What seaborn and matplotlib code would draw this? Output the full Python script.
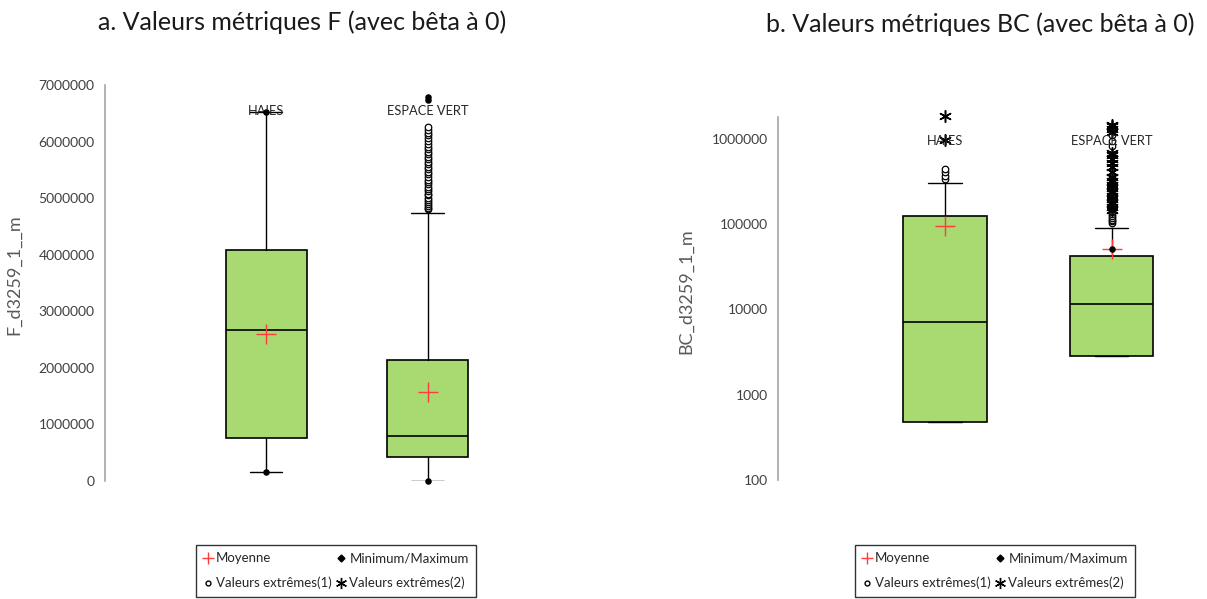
import matplotlib
matplotlib.use("Agg")
import pandas as pd
import seaborn as sns
import matplotlib.pyplot as plt
from matplotlib.lines import Line2D
from matplotlib.ticker import FixedLocator, NullLocator, FuncFormatter

categories = ["HAIES", "ESPACE VERT"]

# a. F metric (linear axis)
f_q1 = [760000, 425000]
f_median = [2665000, 800000]
f_q3 = [4080000, 2147000]
f_whislo = [160000, 0]
f_whishi = [6530000, 4730000]
f_mean = [2595000, 1570000]
f_minmax = {"HAIES": [160000, 6530000], "ESPACE VERT": [0, 6740000, 6790000]}
f_out1 = {"HAIES": [],
          "ESPACE VERT": [4800000, 4830000, 4860000, 4900000, 4930000, 4970000, 5010000,
                          5050000, 5080000, 5120000, 5160000, 5200000, 5250000, 5290000,
                          5330000, 5380000, 5420000, 5460000, 5510000, 5550000, 5600000,
                          5640000, 5690000, 5730000, 5780000, 5820000, 5870000, 5910000,
                          5960000, 6010000, 6060000, 6110000, 6150000, 6200000, 6250000]}
f_out2 = {"HAIES": [], "ESPACE VERT": []}
f_ticks = [0, 1000000, 2000000, 3000000, 4000000, 5000000, 6000000, 7000000]

# b. BC metric (log axis)
bc_q1 = [481, 2830]
bc_median = [7100, 11460]
bc_q3 = [123000, 42400]
bc_whislo = [481, 2830]
bc_whishi = [300000, 89800]
bc_mean = [95700, 50800]
bc_minmax = {"HAIES": [], "ESPACE VERT": [51000]}
bc_out1 = {"HAIES": [340000, 370000, 410000, 440000],
           "ESPACE VERT": [103000, 108000, 113000, 118000, 124000, 130000, 137000, 144000,
                           152000, 160000, 170000, 181000, 193000, 206000, 220000, 236000,
                           255000, 275000, 300000, 330000, 370000, 820000, 950000,
                           1100000, 1250000]}
bc_out2 = {"HAIES": [955000, 1850000],
           "ESPACE VERT": [146000, 160000, 178000, 196000, 215000, 240000, 262000, 290000,
                           320000, 360000, 410000, 470000, 520000, 580000, 640000, 690000,
                           1200000, 1300000, 1400000, 1460000]}
bc_ticks = [100, 1000, 10000, 100000, 1000000]

legend_labels = ["Moyenne", "Valeurs extrêmes(1)", "Minimum/Maximum", "Valeurs extrêmes(2)"]

GREEN = "#A9D971"
RED = "#FF3B3B"
GRAY = "#A6A6A6"
STAR = (6, 2, 0)


def points_frame(groups):
    rows = []
    for cat, vals in groups.items():
        for v in vals:
            rows.append({"pos": categories.index(cat), "value": v})
    return pd.DataFrame(rows, columns=["pos", "value"])


def draw_panel(ax, q1, med, q3, lo, hi, mean, minmax, out1, out2):
    stats = []
    for i, c in enumerate(categories):
        stats.append(dict(label=c, q1=q1[i], med=med[i], q3=q3[i],
                          whislo=lo[i], whishi=hi[i], fliers=[]))
    ax.bxp(stats, positions=range(len(categories)), widths=0.5, capwidths=0.2,
           showfliers=False, patch_artist=True, manage_ticks=False,
           boxprops=dict(facecolor=GREEN, edgecolor="black", linewidth=1.2),
           medianprops=dict(color="black", linewidth=1.2),
           whiskerprops=dict(color="black", linewidth=1),
           capprops=dict(color="black", linewidth=1))

    means = pd.DataFrame({"pos": range(len(categories)), "value": mean})
    sns.scatterplot(data=means, x="pos", y="value", marker="+", s=200, color=RED,
                    linewidth=1, ax=ax, zorder=5)
    d1 = points_frame(out1)
    if len(d1):
        sns.scatterplot(data=d1, x="pos", y="value", marker="o", s=22, facecolor="white",
                        edgecolor="black", linewidth=0.9, ax=ax, zorder=4, clip_on=False)
    d2 = points_frame(out2)
    if len(d2):
        sns.scatterplot(data=d2, x="pos", y="value", marker=STAR, s=70, color="black",
                        linewidth=1.1, ax=ax, zorder=4, clip_on=False)
    dm = points_frame(minmax)
    if len(dm):
        sns.scatterplot(data=dm, x="pos", y="value", marker="o", s=22, color="black",
                        linewidth=0, ax=ax, zorder=6, clip_on=False)

    ax.set_xlim(-1, 1.5)
    ax.set_xticks([])
    ax.set_xlabel("")
    for s in ["top", "right", "bottom"]:
        ax.spines[s].set_visible(False)
    ax.spines["left"].set_color(GRAY)
    ax.spines["left"].set_linewidth(1.2)
    ax.tick_params(axis="y", direction="inout", length=8, width=1, color=GRAY,
                   labelsize=10, labelcolor="#404040")
    ax.grid(False)


def add_legend(ax, x0):
    handles = [
        Line2D([], [], marker="+", color=RED, linestyle="none", markersize=8),
        Line2D([], [], marker="o", markerfacecolor="white", markeredgecolor="black",
               linestyle="none", markersize=3.5),
        Line2D([], [], marker="D", color="black", linestyle="none", markersize=3.5),
        Line2D([], [], marker=STAR, color="black", linestyle="none", markersize=8),
    ]
    leg = ax.legend(handles, legend_labels, ncol=2, loc="lower left",
                    bbox_to_anchor=(x0, 0.004),
                    bbox_transform=ax.figure.transFigure,
                    fontsize=9.5, frameon=True, fancybox=False, handlelength=0.7,
                    handletextpad=0.25, borderpad=0.55, labelspacing=0.95,
                    columnspacing=0.4, borderaxespad=0)
    leg.get_frame().set_edgecolor("black")
    leg.get_frame().set_linewidth(1)


sns.set_style("white")
plt.rcParams["font.family"] = ["Lato", "DejaVu Sans"]

fig = plt.figure(figsize=(12.07, 5.99), dpi=100)
ax1 = fig.add_axes([0.087, 0.197, 0.334, 0.661])
ax2 = fig.add_axes([0.6446, 0.1987, 0.3455, 0.606])

draw_panel(ax1, f_q1, f_median, f_q3, f_whislo, f_whishi, f_mean, f_minmax, f_out1, f_out2)
ax1.set_ylim(0, 7000000)
ax1.yaxis.set_major_locator(FixedLocator(f_ticks))
ax1.yaxis.set_major_formatter(FuncFormatter(lambda v, p: f"{int(v)}"))
ax1.set_ylabel("F_d3259_1__m", fontsize=13, color="#595959")
ax1.yaxis.set_label_coords(-0.205, 0.52)
for i, c in enumerate(categories):
    ax1.text(i, 6550000, c, ha="center", va="center", fontsize=9.3, color="#262626")

ax2.set_yscale("log")
draw_panel(ax2, bc_q1, bc_median, bc_q3, bc_whislo, bc_whishi, bc_mean, bc_minmax, bc_out1, bc_out2)
ax2.set_ylim(100, 1800000)
ax2.yaxis.set_major_locator(FixedLocator(bc_ticks))
ax2.yaxis.set_minor_locator(NullLocator())
ax2.yaxis.set_major_formatter(FuncFormatter(lambda v, p: f"{int(round(v))}"))
ax2.set_ylabel("BC_d3259_1_m", fontsize=13, color="#595959")
ax2.yaxis.set_label_coords(-0.2, 0.52)
for i, c in enumerate(categories):
    ax2.text(i, 940000, c, ha="center", va="center", fontsize=9.3, color="#262626", zorder=7)

fig.text(302 / 1207, 1 - 22 / 599, "a. Valeurs métriques F (avec bêta à 0)",
         ha="center", va="center", fontsize=18, color="#1a1a1a")
fig.text(980 / 1207, 1 - 24 / 599, "b. Valeurs métriques BC (avec bêta à 0)",
         ha="center", va="center", fontsize=18, color="#1a1a1a")

add_legend(ax1, 0.1624)
add_legend(ax2, 0.7084)

fig.savefig("out.png", dpi=100)
